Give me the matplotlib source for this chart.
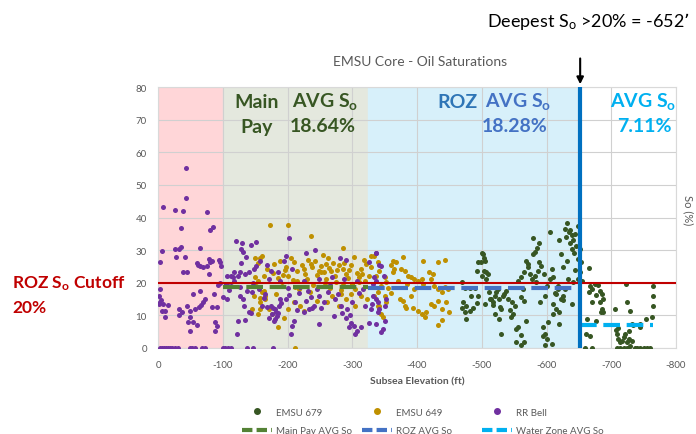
import matplotlib
matplotlib.use('Agg')
import matplotlib.pyplot as plt
from matplotlib.lines import Line2D

plt.rcParams['font.family'] = ['Lato', 'DejaVu Sans']
plt.rcParams['axes.unicode_minus'] = False

# RR Bell (purple) - elevation (ft), So (%)
rr_x = [-44, -7, -43, -27, -38, -75, -36, -81, -85, -6, -26, -33, -35, -65, -28, -42, -3, -60, -65, -69,
        -62, -78, -80, -83, -76, -94, -97, -96, -39, -45, -79, -3, -1, -2, -4, -1, -8, -16, -11, -6,
        -11, -54, -65, -86, -33, -32, -37, -45, -50, -57, -63, -66, -69, -73, -83, -91, -49, -54, -47, -60,
        -50, -88, -91, -88, -92, -95, -100,
        -3, -6, -9, -12, -15, -18, -22, -26, -31, -50, -53, -57, -68, -72, -101, -104, -108, -112, -138, -147, -177,
        -121, -130, -128, -131, -144, -151, -136, -128, -158, -152, -148, -117, -126, -112, -116, -123, -135, -140,
        -106, -105, -108, -113, -127, -137, -145, -107, -127, -132, -143, -140, -124, -135, -122, -161, -169, -163, -166,
        -203, -242, -229, -281, -290, -198, -194, -168, -174, -186, -207, -171, -189, -225, -248, -269, -287, -308,
        -174, -181, -176, -184, -171, -179, -189, -197, -210, -207, -205, -212, -228, -236, -241, -248, -251, -233,
        -225, -248, -272, -274, -282, -292, -290, -298, -295, -303, -308, -313, -305, -326, -329, -331, -336, -326,
        -337, -342, -334, -337, -332, -337, -339, -352, -350, -342, -339, -350, -347, -345, -337, -332, -345, -349,
        -178, -183, -187, -180, -186, -190, -200, -203, -215, -218, -220, -231, -238, -245, -256, -262, -266,
        -278, -284, -296, -300, -310, -316, -320, -118, -146, -156, -110, -133]
rr_y = [55.2, 43.3, 45.9, 42.3, 42.1, 41.6, 36.7, 36.3, 37.0, 29.7, 30.2, 30.4, 31.1, 30.8, 27.9, 27.8, 26.5, 26.0, 25.1, 24.7,
        25.5, 27.3, 26.3, 26.8, 25.2, 27.0, 25.2, 26.3, 23.2, 23.4, 22.7, 18.1, 15.9, 13.7, 14.6, 13.4, 13.5, 13.3, 11.4, 11.4,
        9.6, 16.7, 17.6, 16.6, 12.0, 10.1, 11.1, 12.9, 11.4, 12.0, 12.5, 13.3, 14.0, 15.0, 12.5, 12.5, 9.4, 8.1, 7.9, 7.1,
        5.3, 7.9, 6.8, 5.3, 19.2, 20.0, 15.6,
        0, 0, 0, 0, 0, 0, 0, 0, 0, 0, 0, 0, 0, 0, 0, 0, 0, 0, 0, 0, 0,
        32.9, 32.1, 30.4, 29.5, 31.6, 32.6, 28.0, 26.1, 26.7, 25.2, 24.2, 23.4, 23.2, 22.2, 21.7, 22.0, 22.7, 23.2,
        22.0, 19.6, 19.1, 18.9, 18.6, 17.6, 17.1, 15.0, 16.0, 15.0, 10.6, 10.9, 8.4, 8.6, 4.3, 13.0, 12.5, 15.2, 16.6,
        33.6, 30.1, 29.1, 27.5, 27.0, 28.1, 26.8, 25.3, 23.7, 23.2, 24.3, 21.2, 20.6, 20.6, 21.2, 21.7, 21.2, 20.6,
        13.0, 11.9, 10.4, 9.9, 9.3, 8.3, 15.0, 15.0, 8.3, 6.8, 4.2, 14.0, 14.5, 15.5, 13.0, 16.0, 12.4, 11.9,
        10.9, 7.3, 9.9, 15.0, 13.0, 11.9, 9.3, 7.8, 6.3, 6.8, 5.2, 6.3, 4.2, 7.8, 11.9, 13.5, 29.1, 26.3,
        29.2, 25.3, 21.7, 20.6, 16.0, 15.0, 14.0, 15.0, 13.0, 11.9, 10.9, 8.3, 5.8, 4.8, 7.3, 19.6, 25.0, 22.0,
        12.2, 11.0, 12.8, 9.0, 10.8, 13.8, 18.5, 16.2, 11.5, 16.8, 18.8, 17.5, 12.2, 18.0, 14.2, 17.2, 19.2,
        16.4, 10.8, 10.2, 14.2, 16.8, 18.2, 12.8, 20.5, 19.8, 18.2, 17.8, 13.0]

# EMSU 649 (gold)
e649_x = [-150, -158, -155, -173, -150, -154, -152, -148, -158, -166, -163, -168, -163, -145, -158, -155,
          -201, -237, -286,
          -161, -179, -189, -197, -210, -215, -225, -238, -243, -259, -251, -267, -274, -285, -298, -303, -313,
          -321, -329, -329, -336, -342,
          -185, -200, -215, -230, -245, -260, -275, -290, -300, -310, -320, -192, -218, -240, -265, -282, -305,
          -178, -205, -232, -255, -280, -295, -318, -252, -262, -193, -222, -248, -270,
          -161, -166, -158, -171, -176, -186, -211, -194, -220, -225, -210, -261, -279, -298, -282, -305, -313,
          -323, -334, -339, -182, -200, -245, -268, -290,
          -378, -363, -368, -360, -365, -363, -409, -432, -443, -376, -381, -386, -391, -396, -401, -407, -419,
          -425, -422, -427, -432, -438, -443, -448, -373, -378, -381, -383, -391, -394, -401, -407, -412, -414,
          -422, -427, -432, -438, -445, -450, -432, -438, -345, -347, -334, -339, -350, -352, -345, -339, -350,
          -352, -342, -370, -385, -395, -410, -355, -360,
          -196, -208, -227, -236, -256, -264, -277, -288, -293, -308, -315, -326, -212, -234, -258, -286, -311]
e649_y = [27.6, 27.6, 26.1, 37.7, 21.7, 20.6, 18.9, 15.9, 15.2, 15.9, 17.6, 24.2, 22.2, 12.0, 12.0, 10.4,
          37.7, 34.4, 30.7,
          28.3, 25.8, 26.8, 24.8, 26.3, 23.7, 24.3, 24.8, 26.8, 25.8, 23.2, 23.7, 22.2, 24.3, 25.3, 27.8, 24.3,
          25.8, 24.8, 28.3, 22.2, 23.7,
          21.5, 22.0, 20.5, 21.0, 22.5, 21.0, 20.2, 22.8, 19.5, 21.8, 20.5, 19.0, 18.0, 19.2, 18.5, 17.8, 18.2,
          23.0, 27.5, 27.0, 28.5, 25.5, 24.0, 27.0, 25.0, 27.5, 22.5, 25.5, 23.5, 26.0,
          17.1, 15.0, 14.0, 11.9, 10.4, 6.3, 0.0, 9.3, 13.0, 11.4, 14.0, 14.0, 13.0, 16.6, 16.6, 13.0, 16.0,
          15.0, 16.0, 13.0, 16.5, 12.0, 14.5, 16.0, 15.0,
          27.8, 26.8, 26.3, 25.3, 24.3, 23.2, 26.6, 26.3, 27.0, 24.3, 23.7, 22.2, 21.7, 21.2, 20.6, 21.2, 23.2,
          22.7, 21.2, 19.1, 18.1, 17.1, 18.6, 18.1, 15.0, 14.5, 12.9, 12.4, 16.0, 12.4, 11.4, 10.4, 9.4, 10.9,
          13.4, 12.9, 14.5, 11.9, 14.0, 10.9, 7.0, 8.7, 10.4, 9.4, 28.3, 26.3, 21.7, 20.1, 19.1, 17.1, 16.0,
          14.0, 13.0, 20.5, 19.5, 18.0, 19.5, 18.5, 17.0,
          23.8, 20.8, 22.8, 25.8, 23.2, 24.6, 23.8, 26.2, 21.5, 23.0, 22.8, 22.0, 18.8, 17.2, 19.8, 19.2, 20.2]

# EMSU 679 (dark green)
e679_x = [-500, -494, -505, -492, -500, -507, -469, -474, -482, -489, -484, -494, -471, -469, -476, -482, -474,
          -476, -487, -492, -505, -513,
          -502, -504, -499, -504, -509, -507, -579, -589, -582, -579, -569, -571, -574, -566, -561, -556, -577,
          -582, -587, -589, -592, -584, -564, -605, -608, -610, -605, -618,
          -636, -631, -628, -634, -639, -644, -649, -641, -646, -639, -651, -649, -631, -623, -626, -633, -649,
          -641, -620,
          -525, -522, -520, -515, -517, -527, -533, -538, -540, -546, -551, -548, -520, -527, -530, -553, -556,
          -569, -566, -561,
          -595, -597, -595, -600, -597, -553, -561, -566, -608, -602, -620,
          -610, -615, -620, -623, -626, -615, -610, -639, -628, -618,
          -652, -655, -560, -545, -530, -600, -590, -598,
          -665, -667, -670, -666, -675, -680, -683, -677, -685, -688, -670, -683, -685, -684, -688, -662, -661,
          -670, -659, -667, -677,
          -723, -724, -706, -729, -732, -734, -745, -753, -745, -764, -765, -764, -763,
          -709, -711, -714, -716, -719, -724, -727, -721, -727, -729, -732, -709, -714, -719, -724, -737, -740,
          -745, -750, -755, -760, -711, -708,
          -511, -518, -528, -535, -543, -572, -586, -596, -613, -625, -637, -643, -644, -630, -654]
e679_y = [29.2, 26.3, 26.8, 23.7, 22.2, 23.2, 20.1, 18.3, 18.3, 18.3, 16.0, 16.0, 14.0, 12.4, 13.0, 11.4, 10.9,
          8.8, 12.4, 13.7, 13.4, 15.0,
          28.7, 27.7, 26.3, 23.7, 22.7, 21.2, 33.6, 32.1, 29.5, 28.8, 26.8, 24.7, 22.7, 23.2, 21.7, 20.6, 21.2,
          22.2, 23.7, 26.3, 25.2, 20.1, 18.1, 35.7, 24.3, 21.7, 21.2, 18.1,
          36.3, 38.3, 36.5, 35.5, 34.5, 35.0, 37.3, 33.0, 31.4, 30.4, 30.4, 27.3, 26.8, 28.8, 24.8, 21.2, 21.2,
          20.1, 33.0,
          18.1, 17.1, 16.0, 15.0, 14.0, 15.0, 16.0, 17.6, 15.0, 14.0, 13.0, 10.4, 10.4, 8.9, 4.3, 5.8, 6.3,
          8.4, 14.5, 15.5,
          6.3, 4.3, 3.8, 2.8, 0.8, 1.8, 0.8, 1.8, 1.3, 7.9, 7.3,
          13.5, 11.9, 10.9, 15.0, 16.0, 16.6, 10.4, 13.5, 18.1, 19.1,
          23.2, 20.5, 4.0, 9.5, 12.0, 19.0, 14.0, 16.0,
          24.4, 19.1, 18.1, 17.1, 19.6, 19.3, 17.6, 16.1, 16.6, 15.0, 14.0, 14.0, 11.9, 10.9, 10.9, 8.9, 4.3,
          0, 0, 3.8, 8.4,
          19.6, 14.0, 11.9, 11.4, 7.4, 6.9, 7.4, 8.9, 6.4, 19.0, 16.0, 13.0, 9.4,
          4.3, 2.8, 1.7, 2.2, 3.3, 1.7, 2.8, 4.3, 5.3, 0.7, 2.2, 0, 0, 0, 0, 0, 0,
          0, 0, 0, 0, 6.0, 5.5,
          17.2, 13.2, 12.6, 16.6, 11.8, 25.8, 30.8, 22.8, 17.0, 14.6, 32.2, 29.2, 24.0, 34.0, 26.5]

# zone averages
main_pay_x = [-100, -325]
main_pay_avg = 18.64
roz_x = [-325, -652]
roz_avg = 18.28
water_x = [-652, -765]
water_avg = 7.11
cutoff = 20
deepest = -652
x_ticks = [0, -100, -200, -300, -400, -500, -600, -700, -800]

fig = plt.figure(figsize=(6.96, 4.35), dpi=100)
ax = fig.add_axes([158 / 696, 86 / 435, 518 / 696, 261 / 435])

# zone backgrounds
ax.axvspan(0, -100, color='#FFD6D8', zorder=0)
ax.axvspan(-100, -325, color='#E4E8DE', zorder=0)
ax.axvspan(-325, deepest, color='#D7F0FA', zorder=0)

ax.scatter(e679_x, e679_y, s=13, color='#375623', zorder=3, linewidths=0)
ax.scatter(e649_x, e649_y, s=13, color='#BF9000', zorder=3, linewidths=0)
ax.scatter(rr_x, rr_y, s=13, color='#7030A0', zorder=3, linewidths=0)

dash = (0, (4, 1.6))
ax.plot(main_pay_x, [main_pay_avg] * 2, color='#548235', lw=3, ls=dash, zorder=4)
ax.plot(roz_x, [roz_avg] * 2, color='#4472C4', lw=3, ls=dash, zorder=4)
ax.plot(water_x, [water_avg] * 2, color='#00B0F0', lw=3, ls=dash, zorder=4)

ax.axhline(cutoff, color='#C00000', lw=1.5, zorder=5)
ax.axvline(deepest, color='#0070C0', lw=3, zorder=5)

ax.set_xlim(0, -800)
ax.set_ylim(0, 80)
ax.set_xticks(x_ticks)
ax.set_yticks(range(0, 81, 10))
ax.grid(color='#D0D0D0', lw=0.8)
for g in ax.get_xgridlines() + ax.get_ygridlines():
    g.set_zorder(1)
ax.tick_params(length=0, labelsize=7, colors='#595959')
ax.tick_params(axis='x', pad=9)
ax.tick_params(axis='y', pad=8)
for s in ax.spines.values():
    s.set_color('#D9D9D9')
ax.set_xlabel('Subsea Elevation (ft)', fontsize=7.5, color='#595959', fontweight='bold', labelpad=5)

fig.text(688 / 696, 1 - 210 / 435, 'So (%)', rotation=270, fontsize=8, color='#595959', ha='center', va='center')
fig.text(420 / 696, 1 - 62 / 435, 'EMSU Core - Oil Saturations', fontsize=10, color='#595959', ha='center', va='center')

fig.text(588 / 696, 1 - 22 / 435, 'Deepest S$\\mathregular{_o}$ >20% = -652\u2019', fontsize=13, color='black',
         ha='center', va='center')
ax.annotate('', xy=(deepest, 80), xycoords='data', xytext=(deepest, 1.12), textcoords=('data', 'axes fraction'),
            arrowprops=dict(arrowstyle='-|>', color='black', lw=1.5, mutation_scale=10))

# zone labels
green_t = '#375623'
fs = 14
fig.text(257 / 696, 1 - 102 / 435, 'Main', fontsize=fs, fontweight='bold', color=green_t, ha='center', va='center')
fig.text(257 / 696, 1 - 127 / 435, 'Pay', fontsize=fs, fontweight='bold', color=green_t, ha='center', va='center')
fig.text(325 / 696, 1 - 102 / 435, 'AVG S$\\mathregular{_o}$', fontsize=fs, fontweight='bold', color=green_t,
         ha='center', va='center')
fig.text(323 / 696, 1 - 127 / 435, '18.64%', fontsize=fs, fontweight='bold', color=green_t, ha='center', va='center')

fig.text(457 / 696, 1 - 102 / 435, 'ROZ', fontsize=fs, fontweight='bold', color='#2E75B6', ha='center', va='center')
fig.text(518 / 696, 1 - 102 / 435, 'AVG S$\\mathregular{_o}$', fontsize=fs, fontweight='bold', color='#4472C4',
         ha='center', va='center')
fig.text(515 / 696, 1 - 127 / 435, '18.28%', fontsize=fs, fontweight='bold', color='#4472C4', ha='center', va='center')

fig.text(643 / 696, 1 - 102 / 435, 'AVG S$\\mathregular{_o}$', fontsize=fs, fontweight='bold', color='#00B0F0',
         ha='center', va='center')
fig.text(644 / 696, 1 - 127 / 435, '7.11%', fontsize=fs, fontweight='bold', color='#00B0F0', ha='center', va='center')

fig.text(12 / 696, 1 - 284 / 435, 'ROZ S$\\mathregular{_o}$ Cutoff', fontsize=12.5, fontweight='bold', color='#C00000',
         ha='left', va='center')
fig.text(12 / 696, 1 - 308 / 435, '20%', fontsize=12.5, fontweight='bold', color='#C00000', ha='left', va='center')

# legend: three columns placed separately
columns = [
    (242, '#375623', 'EMSU 679', '#548235', 'Main Pay AVG So'),
    (362, '#BF9000', 'EMSU 649', '#4472C4', 'ROZ AVG So'),
    (482, '#7030A0', 'RR Bell', '#00B0F0', 'Water Zone AVG So'),
]
for x0, mc, mlab, lc, llab in columns:
    hs = [Line2D([], [], color=mc, marker='o', ls='none', ms=4),
          Line2D([], [], color=lc, lw=3, ls=(0, (2.5, 1)))]
    leg = fig.legend(hs, [mlab, llab], loc='center left', bbox_to_anchor=(x0 / 696, 1 - 422.5 / 435),
                     frameon=False, fontsize=7, handlelength=3.1, handletextpad=0.4, labelspacing=0.95,
                     borderpad=0, borderaxespad=0)
    for t in leg.get_texts():
        t.set_color('#595959')

fig.savefig('out.png', dpi=100)
